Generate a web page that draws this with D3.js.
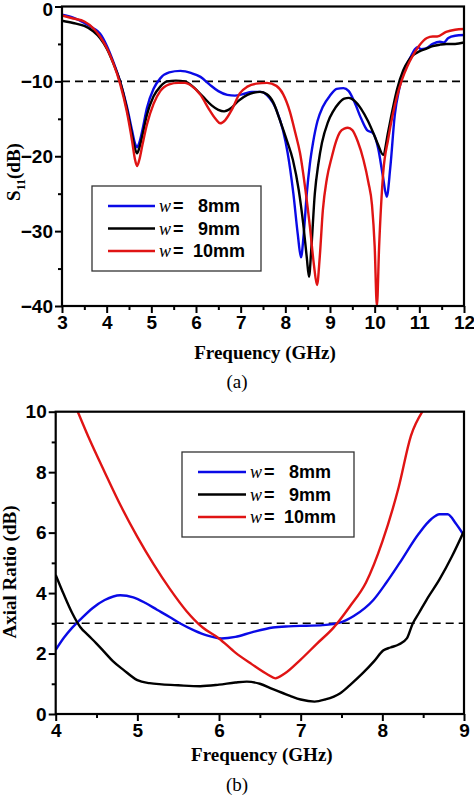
<!DOCTYPE html>
<html><head><meta charset="utf-8">
<script src="https://cdn.jsdelivr.net/npm/d3@7"></script>
<style>
html,body{margin:0;padding:0;background:#fff;}
svg{display:block;}
</style></head>
<body>
<script>
// ---------- DATA ----------
const seriesNames = ["8mm", "9mm", "10mm"];
const seriesColors = ["#0a0ae6", "#000000", "#e01414"];

// (a) S11 vs frequency
const s11Ticks = [0, -10, -20, -30, -40];
const s11FreqTicks = [3, 4, 5, 6, 7, 8, 9, 10, 11, 12];
const s11_8mm = [[3.0,-1.1],[3.25,-1.5],[3.5,-2.2],[3.7,-2.9],[3.85,-3.6],[4.0,-5.2],[4.15,-7.4],[4.3,-10.0],[4.45,-13.3],[4.57,-16.6],[4.63,-18.2],[4.68,-18.8],[4.73,-18.2],[4.8,-16.5],[4.9,-13.6],[5.05,-11.0],[5.2,-9.6],[5.4,-8.8],[5.65,-8.6],[5.9,-8.9],[6.1,-9.4],[6.3,-10.4],[6.5,-11.3],[6.7,-11.8],[6.87,-11.9],[7.05,-11.7],[7.25,-11.4],[7.45,-11.4],[7.6,-11.9],[7.8,-13.8],[7.95,-16.6],[8.05,-19.5],[8.18,-25.0],[8.28,-30.5],[8.35,-33.5],[8.41,-30.5],[8.48,-25.0],[8.55,-21.0],[8.62,-18.2],[8.72,-15.3],[8.84,-13.4],[9.0,-11.9],[9.15,-11.0],[9.3,-10.9],[9.42,-11.3],[9.55,-12.8],[9.7,-15.0],[9.83,-16.5],[9.96,-16.9],[10.08,-19.0],[10.18,-22.5],[10.27,-25.4],[10.35,-21.5],[10.45,-14.5],[10.55,-11.0],[10.65,-8.7],[10.8,-6.8],[10.9,-5.7],[10.97,-5.4],[11.03,-5.7],[11.15,-5.6],[11.3,-5.0],[11.46,-4.7],[11.55,-4.8],[11.65,-4.2],[11.8,-3.9],[12.0,-3.8]];
const s11_9mm = [[3.0,-1.9],[3.25,-2.2],[3.5,-2.6],[3.7,-3.3],[3.85,-4.2],[4.0,-5.6],[4.15,-7.6],[4.3,-10.0],[4.45,-13.6],[4.57,-17.2],[4.63,-18.9],[4.68,-19.6],[4.73,-18.9],[4.8,-17.2],[4.9,-14.5],[5.05,-12.0],[5.2,-10.7],[5.35,-10.0],[5.55,-9.9],[5.75,-10.0],[5.95,-10.8],[6.15,-12.0],[6.35,-13.2],[6.5,-13.8],[6.63,-14.0],[6.78,-13.6],[6.95,-12.6],[7.15,-11.8],[7.3,-11.5],[7.43,-11.4],[7.58,-11.7],[7.73,-12.8],[7.88,-15.2],[8.03,-17.8],[8.17,-20.5],[8.3,-24.5],[8.4,-29.0],[8.48,-33.5],[8.53,-36.1],[8.58,-32.5],[8.66,-25.0],[8.74,-21.0],[8.82,-18.2],[8.95,-15.5],[9.07,-14.0],[9.2,-12.9],[9.32,-12.3],[9.42,-12.2],[9.55,-12.6],[9.7,-13.7],[9.85,-15.3],[9.97,-16.9],[10.08,-18.5],[10.19,-19.8],[10.3,-16.8],[10.4,-13.8],[10.5,-11.1],[10.64,-8.5],[10.75,-7.3],[10.86,-6.5],[11.0,-6.0],[11.17,-5.6],[11.3,-5.3],[11.46,-5.1],[11.6,-5.0],[11.8,-5.0],[12.0,-4.8]];
const s11_10mm = [[3.0,-1.2],[3.25,-1.6],[3.5,-2.0],[3.7,-2.9],[3.85,-4.0],[4.0,-5.5],[4.15,-7.6],[4.3,-10.3],[4.45,-14.0],[4.57,-18.0],[4.63,-20.3],[4.68,-21.3],[4.73,-20.5],[4.8,-18.5],[4.9,-15.8],[5.05,-13.0],[5.2,-11.3],[5.4,-10.4],[5.6,-10.2],[5.75,-10.2],[5.9,-10.6],[6.1,-11.8],[6.3,-13.8],[6.45,-15.1],[6.54,-15.6],[6.65,-15.2],[6.8,-13.8],[6.98,-11.6],[7.15,-10.7],[7.35,-10.3],[7.59,-10.2],[7.8,-10.6],[7.95,-11.7],[8.1,-14.0],[8.22,-16.8],[8.33,-19.6],[8.45,-24.5],[8.55,-29.4],[8.64,-34.5],[8.71,-37.2],[8.77,-33.5],[8.84,-27.2],[8.93,-23.0],[9.04,-20.1],[9.12,-18.3],[9.22,-16.8],[9.32,-16.3],[9.4,-16.2],[9.5,-16.5],[9.62,-18.0],[9.75,-20.5],[9.86,-23.5],[9.94,-26.5],[10.0,-32.0],[10.05,-40.0],[10.1,-32.0],[10.19,-22.3],[10.3,-17.8],[10.41,-14.3],[10.5,-12.0],[10.61,-9.8],[10.73,-8.0],[10.86,-6.5],[11.0,-5.2],[11.17,-4.2],[11.3,-4.0],[11.4,-4.0],[11.6,-3.4],[11.8,-3.1],[12.0,-3.0]];
const s11Reference = -10;

// (b) Axial ratio vs frequency
const arTicks = [0, 2, 4, 6, 8, 10];
const arFreqTicks = [4, 5, 6, 7, 8, 9];
const ar_8mm = [[4.0,2.12],[4.1,2.52],[4.2,2.85],[4.3,3.12],[4.45,3.5],[4.6,3.77],[4.79,3.93],[4.95,3.86],[5.1,3.67],[5.24,3.45],[5.4,3.2],[5.52,3.0],[5.7,2.76],[5.85,2.6],[6.03,2.5],[6.2,2.55],[6.4,2.7],[6.66,2.86],[6.85,2.9],[7.07,2.92],[7.27,2.94],[7.48,3.02],[7.65,3.24],[7.89,3.77],[8.05,4.35],[8.21,4.99],[8.45,5.98],[8.6,6.45],[8.7,6.61],[8.8,6.61],[8.9,6.3],[9.0,5.9]];
const ar_9mm = [[4.0,4.6],[4.1,3.95],[4.2,3.35],[4.3,2.88],[4.4,2.6],[4.5,2.33],[4.6,2.04],[4.7,1.75],[4.83,1.46],[5.0,1.12],[5.15,1.02],[5.3,0.98],[5.5,0.95],[5.77,0.92],[6.0,0.97],[6.2,1.04],[6.34,1.07],[6.5,1.0],[6.66,0.82],[6.87,0.6],[7.0,0.48],[7.17,0.41],[7.3,0.48],[7.48,0.68],[7.6,0.95],[7.76,1.35],[7.9,1.75],[8.01,2.1],[8.1,2.2],[8.2,2.3],[8.3,2.5],[8.37,2.98],[8.45,3.35],[8.54,3.77],[8.7,4.45],[8.85,5.2],[9.0,6.05]];
const ar_10mm = [[4.27,10],[4.4,9.17],[4.6,8.0],[4.8,6.87],[5.0,5.86],[5.2,4.95],[5.4,4.13],[5.6,3.41],[5.8,2.86],[6.0,2.5],[6.2,2.03],[6.4,1.65],[6.6,1.3],[6.69,1.18],[6.8,1.33],[7.0,1.8],[7.2,2.33],[7.4,2.85],[7.6,3.55],[7.8,4.35],[8.0,5.7],[8.2,7.5],[8.35,9.2],[8.49,10]];
const arReference = 3;

// ---------- DRAW ----------
const W = 474, H = 795;
const svg = d3.select("body").append("svg").attr("width", W).attr("height", H);
svg.append("rect").attr("width", W).attr("height", H).attr("fill", "#fff");

const SANS = "'Liberation Sans', Arial, sans-serif";
const SERIF = "'Liberation Serif', 'Times New Roman', serif";

function minorRange(a, b, step) {
  const out = [];
  for (let v = a; v <= b + 1e-9; v += step) out.push(+v.toFixed(4));
  return out;
}

function panel(cfg) {
  const x = d3.scaleLinear().domain(cfg.xDomain).range([cfg.left, cfg.right]);
  const y = d3.scaleLinear().domain(cfg.yDomain).range([cfg.bottom, cfg.top]);
  const g = svg.append("g");

  const clipId = "clip" + cfg.id;
  svg.append("clipPath").attr("id", clipId).append("rect")
    .attr("x", cfg.left).attr("y", cfg.top)
    .attr("width", cfg.right - cfg.left).attr("height", cfg.bottom - cfg.top);

  // dashed reference
  g.append("line")
    .attr("x1", cfg.left).attr("x2", cfg.right)
    .attr("y1", y(cfg.ref)).attr("y2", y(cfg.ref))
    .attr("stroke", "#000").attr("stroke-width", 1.6)
    .attr("stroke-dasharray", "8,5");

  // curves
  const line = d3.line().x(d => x(d[0])).y(d => y(d[1])).curve(d3.curveMonotoneX);
  const cg = g.append("g").attr("clip-path", `url(#${clipId})`);
  cfg.series.forEach((s, i) => {
    cg.append("path").datum(s)
      .attr("d", line).attr("fill", "none")
      .attr("stroke", seriesColors[i]).attr("stroke-width", 2.4)
      .attr("stroke-linejoin", "round");
  });

  // minor ticks
  g.append("g").attr("transform", `translate(0,${cfg.bottom})`)
    .call(d3.axisBottom(x).tickValues(cfg.xMinor).tickSize(4).tickFormat("").tickSizeOuter(0))
    .call(a => a.select(".domain").remove())
    .selectAll("line").attr("stroke-width", 2);
  g.append("g").attr("transform", `translate(${cfg.left},0)`)
    .call(d3.axisLeft(y).tickValues(cfg.yMinor).tickSize(4).tickFormat("").tickSizeOuter(0))
    .call(a => a.select(".domain").remove())
    .selectAll("line").attr("stroke-width", 2);

  // major axes
  const xa = g.append("g").attr("transform", `translate(0,${cfg.bottom})`)
    .call(d3.axisBottom(x).tickValues(cfg.xTicks).tickSize(7).tickPadding(3).tickSizeOuter(0).tickFormat(d3.format("d")));
  xa.select(".domain").remove();
  xa.selectAll("line").attr("stroke-width", 2);
  xa.selectAll("text").attr("font-family", SANS).attr("font-weight", "bold")
    .attr("font-size", 19).attr("fill", "#000");

  const ya = g.append("g").attr("transform", `translate(${cfg.left},0)`)
    .call(d3.axisLeft(y).tickValues(cfg.yTicks).tickSize(7).tickPadding(2).tickSizeOuter(0).tickFormat(d3.format("d")));
  ya.select(".domain").remove();
  ya.selectAll("line").attr("stroke-width", 2);
  ya.selectAll("text").attr("font-family", SANS).attr("font-weight", "bold")
    .attr("font-size", 19).attr("fill", "#000")
    .attr("dy", d => (y(d) < 12 ? "0.46em" : "0.32em"));

  // frame
  g.append("rect").attr("x", cfg.left).attr("y", cfg.top)
    .attr("width", cfg.right - cfg.left).attr("height", cfg.bottom - cfg.top)
    .attr("fill", "none").attr("stroke", "#000").attr("stroke-width", 2.2);

  // x title
  g.append("text").attr("x", (cfg.left + cfg.right) / 2 + 2).attr("y", cfg.xTitleY)
    .attr("text-anchor", "middle").attr("font-family", SERIF).attr("font-weight", "bold")
    .attr("font-size", 19).text("Frequency (GHz)");

  // caption
  g.append("text").attr("x", 237).attr("y", cfg.capY)
    .attr("text-anchor", "middle").attr("font-family", SERIF)
    .attr("font-size", 19).text(cfg.caption);

  // legend
  const L = cfg.legend;
  g.append("rect").attr("x", L.x).attr("y", L.y).attr("width", L.w).attr("height", L.h)
    .attr("fill", "#fff").attr("stroke", "#333").attr("stroke-width", 1.3);
  seriesNames.forEach((n, i) => {
    const yy = L.y + L.row0 + i * L.dy;
    g.append("line").attr("x1", L.lx1).attr("x2", L.lx2).attr("y1", yy).attr("y2", yy)
      .attr("stroke", seriesColors[i]).attr("stroke-width", 2.4);
    g.append("text").attr("x", L.lx2 + 4).attr("y", yy + 6)
      .attr("font-family", SERIF).attr("font-style", "italic").attr("font-size", 18).text("w");
    g.append("text").attr("x", L.lx2 + 18).attr("y", yy + 6)
      .attr("font-family", SANS).attr("font-weight", "bold").attr("font-size", 18).text("=");
    g.append("text").attr("x", L.lx2 + (n.length === 3 ? 43 : 38)).attr("y", yy + 6)
      .attr("font-family", SANS).attr("font-weight", "bold").attr("font-size", 18).text(n);
  });
  return { x, y, g };
}

// Panel (a)
const pa = panel({
  id: "a", left: 62, right: 464, top: 6.5, bottom: 306,
  xDomain: [3, 12], yDomain: [-40, 0],
  xTicks: s11FreqTicks, yTicks: s11Ticks,
  xMinor: minorRange(3.5, 11.5, 1), yMinor: [-5, -15, -25, -35],
  ref: s11Reference,
  series: [s11_8mm, s11_9mm, s11_10mm],
  xTitleY: 359, capY: 388, caption: "(a)",
  legend: { x: 92, y: 186, w: 169, h: 85, row0: 20, dy: 22.5, lx1: 108, lx2: 155 }
});
const ta = pa.g.append("text")
  .attr("transform", "translate(20,172) rotate(-90)")
  .attr("text-anchor", "middle").attr("font-family", SERIF).attr("font-weight", "bold").attr("font-size", 19);
ta.append("tspan").text("S");
ta.append("tspan").attr("font-size", 12).attr("dy", 5).text("11");
ta.append("tspan").attr("dy", -5).text("(dB)");

// Panel (b)
const pb = panel({
  id: "b", left: 55.7, right: 464, top: 411.7, bottom: 714,
  xDomain: [4, 9], yDomain: [0, 10],
  xTicks: arFreqTicks, yTicks: arTicks,
  xMinor: minorRange(4.5, 8.5, 1), yMinor: [1, 3, 5, 7, 9],
  ref: arReference,
  series: [ar_8mm, ar_9mm, ar_10mm],
  xTitleY: 761, capY: 791, caption: "(b)",
  legend: { x: 182, y: 452, w: 172, h: 85, row0: 20, dy: 22.5, lx1: 198, lx2: 246 }
});
pb.g.append("text")
  .attr("transform", "translate(16,572) rotate(-90)")
  .attr("text-anchor", "middle").attr("font-family", SERIF).attr("font-weight", "bold").attr("font-size", 19)
  .text("Axial Ratio (dB)");
</script>
</body></html>
